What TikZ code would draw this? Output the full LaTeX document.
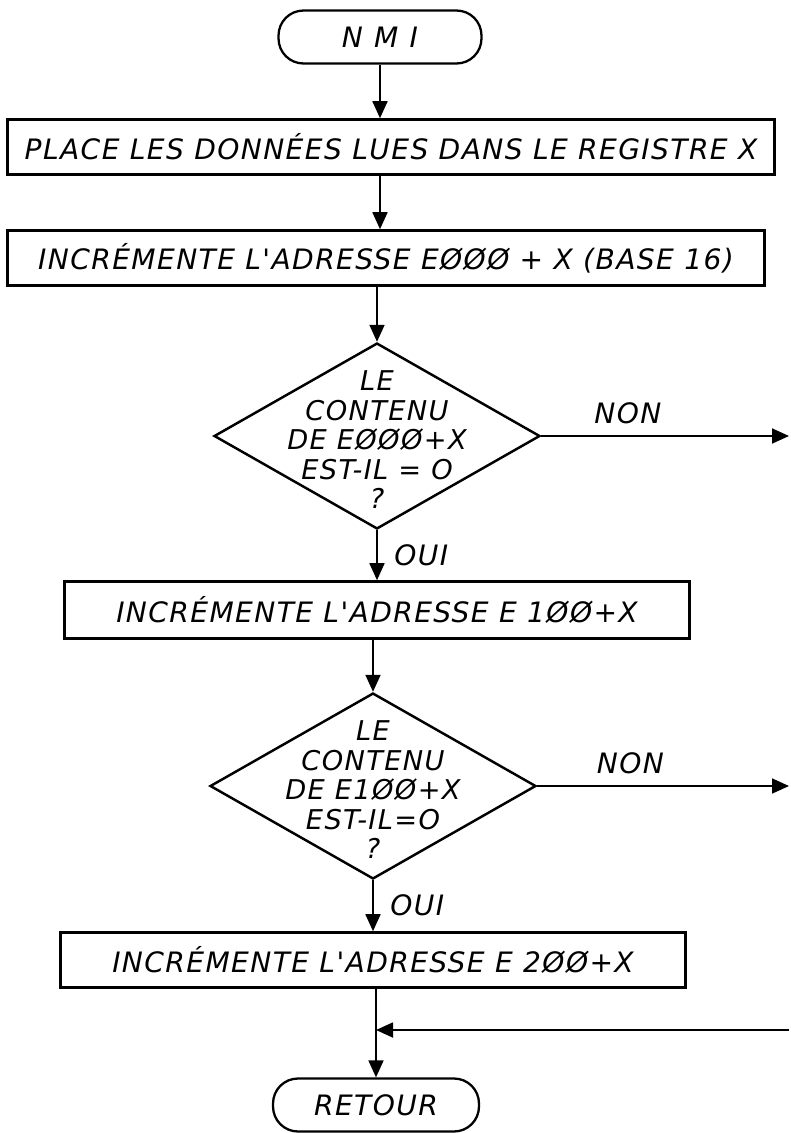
\documentclass[tikz,border=0pt]{standalone}
\usepackage{fontspec}
\usepackage{tikz}
\usetikzlibrary{shapes.geometric,arrows.meta}
\newfontfamily\handfont{DejaVu Sans}[LetterSpace=5]

\begin{document}
\begin{tikzpicture}[x=0.02cm, y=-0.02cm,
    font=\handfont\itshape\fontsize{16}{19}\selectfont,
    terminal/.style={rectangle, draw=black, line width=1.3pt, rounded corners=0.5cm, minimum height=1.06cm},
    process/.style={rectangle, draw=black, line width=1.5pt, minimum height=1.1cm, inner sep=0pt},
    decision/.style={diamond, draw=black, line width=1.4pt, minimum width=6.52cm, minimum height=3.72cm, inner sep=0pt},
    question/.style={align=center, inner sep=0pt, font=\handfont\itshape\fontsize{15.5}{16.8}\selectfont},
    flow/.style={line width=1pt, -{Triangle[length=3.4mm, width=3mm]}}
]
    \useasboundingbox (0,0) rectangle (791,1133);

    % Steps
    \node[terminal, minimum width=4.06cm] (nmi) at (380,37) {\addfontfeature{LetterSpace=40}NMI};
    \node[process, minimum width=15.34cm] (load) at (391,147) {PLACE LES DONNÉES LUES DANS LE REGISTRE X};
    \node[process, minimum width=15.14cm] (incE0) at (386,258) {INCRÉMENTE L'ADRESSE EØØØ + X (BASE 16)};
    \node[decision] (testE0) at (377,436) {};
    \node[question] (qE0) at (377,440) {LE\\CONTENU\\DE EØØØ+X\\EST-IL = O\\?};
    \node[process, minimum width=12.5cm, minimum height=1.14cm] (incE1) at (377,610) {INCRÉMENTE L'ADRESSE E 1ØØ+X};
    \node[decision] (testE1) at (373,786) {};
    \node[question] (qE1) at (373,790) {LE\\CONTENU\\DE E1ØØ+X\\EST-IL=O\\?};
    \node[process, minimum width=12.5cm] (incE2) at (373,960) {INCRÉMENTE L'ADRESSE E 2ØØ+X};
    \node[terminal, minimum width=4.12cm] (retour) at (376,1105) {RETOUR};

    % Free ends at the right edge
    \coordinate (nonE0) at (789,436);
    \coordinate (nonE1) at (789,786);
    \coordinate (back) at (789,1030);
    \coordinate (join) at (retour.north |- back);

    % Flow
    \draw[flow] (nmi) -- (nmi |- load.north);
    \draw[flow] (nmi |- load.south) -- (nmi |- incE0.north);
    \draw[flow] (testE0.north |- incE0.south) -- (testE0.north);
    \draw[flow] (testE0.east) -- node[above=3pt, pos=0.35] {NON} (nonE0);
    \draw[flow] (testE0.south) -- node[right=6pt] {OUI} (testE0.south |- incE1.north);
    \draw[flow] (testE1.north |- incE1.south) -- (testE1.north);
    \draw[flow] (testE1.east) -- node[above=3pt, pos=0.37] {NON} (nonE1);
    \draw[flow] (testE1.south) -- node[right=6pt] {OUI} (testE1.south |- incE2.north);
    \draw[flow] (retour.north |- incE2.south) -- (retour.north);
    \draw[flow] (back) -- (join);
\end{tikzpicture}
\end{document}
